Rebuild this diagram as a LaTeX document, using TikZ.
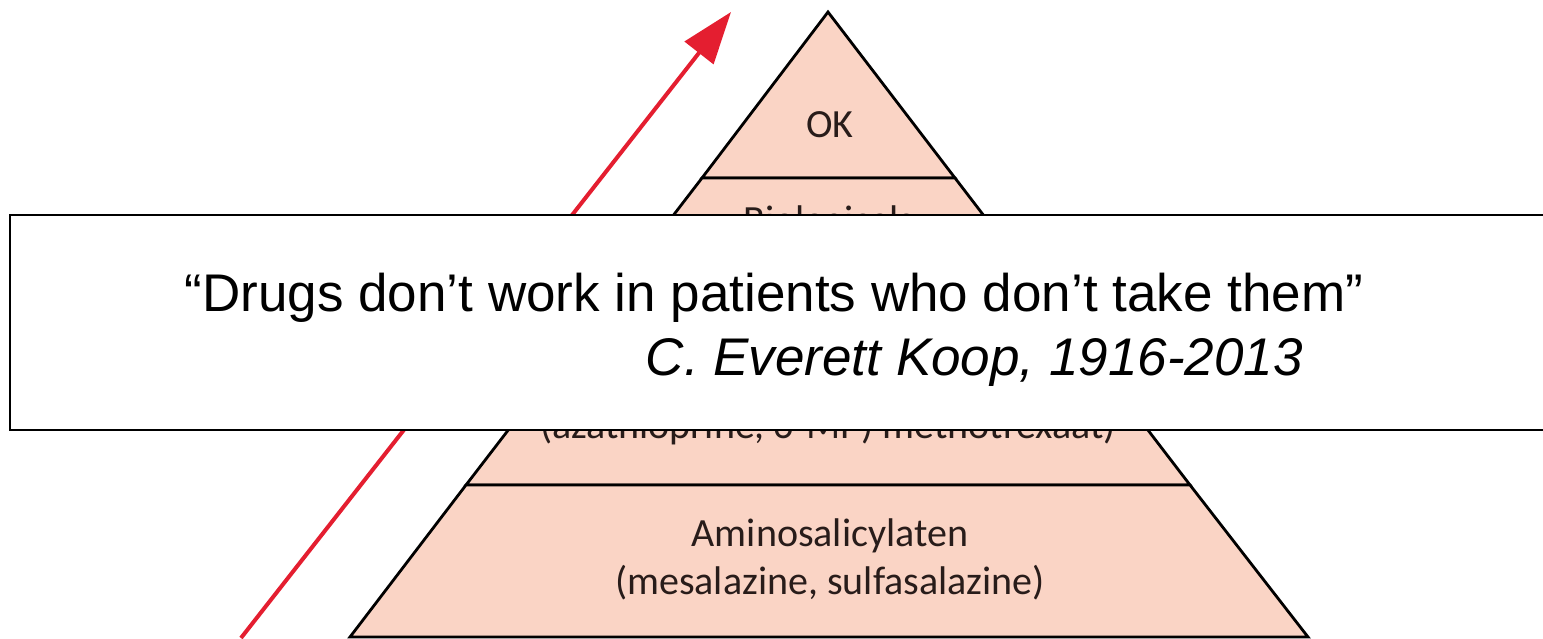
\documentclass[tikz,border=0pt]{standalone}
\usepackage{fontspec}
\setmainfont{Liberation Sans}
\newfontfamily\calib{Carlito}
\usetikzlibrary{arrows.meta}
\definecolor{tierfill}{RGB}{250,212,197}
\definecolor{arrowred}{RGB}{228,30,48}
\definecolor{tierink}{RGB}{40,28,26}
\tikzset{
  tier/.style={fill=tierfill, draw=black, line width=2.8pt, line join=miter},
  tiertext/.style={font=\calib\fontsize{40}{48}\selectfont, text=tierink, inner sep=0pt, anchor=base},
  quotebox/.style={draw=black, line width=1.8pt, fill=white},
  quotetext/.style={font=\fontsize{53}{60}\selectfont, inner sep=0pt, anchor=base},
  riseline/.style={draw=arrowred, line width=4pt, -{Triangle[length=52pt,width=36pt]}}
}
\begin{document}
\begin{tikzpicture}[x=1pt,y=-1pt]
\useasboundingbox (0,0) rectangle (1543,639);
% pyramid: apex (828,12)
\path[tier] (828,12) -- (955,178) -- (702,178) -- cycle;
\path[tier] (702,178) -- (955,178) -- (1190,485) -- (466,485) -- cycle;
\path[tier] (466,485) -- (1190,485) -- (1308,637) -- (350,637) -- cycle;
% tier texts
\node[tiertext] (ok) at (830,138) {OK};
\node[tiertext] (bio) at (829,234) {Biologicals};
\node[tiertext] (imm) at (828,438) {(azathioprine, 6-MP) methotrexaat)};
\node[tiertext] (amino) at (830,546) {Aminosalicylaten};
\node[tiertext] (mesa) at (830,594) {(mesalazine, sulfasalazine)};
% rising arrow
\coordinate (arrowstart) at (241,638);
\coordinate (arrowend) at (731,12);
\draw[riseline] (arrowstart) -- (arrowend);
% quote box
\path[quotebox] (10,215) rectangle (1560,430);
\node[quotetext] (quote) at (774,312) {“Drugs don’t work in patients who don’t take them”};
\node[quotetext, font=\fontsize{53}{60}\selectfont\itshape, anchor=base east] (author) at (1303,375) {C. Everett Koop, 1916-2013};
\end{tikzpicture}
\end{document}
